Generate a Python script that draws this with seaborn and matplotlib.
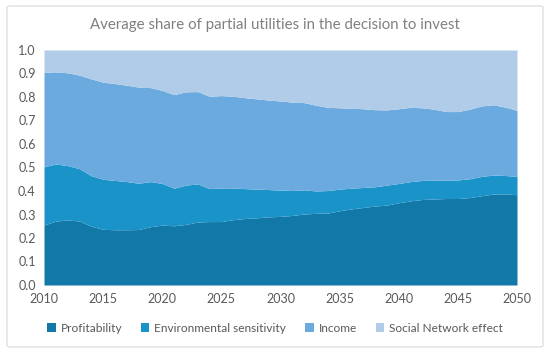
import numpy as np
import matplotlib
matplotlib.use("Agg")
import matplotlib.pyplot as plt
import seaborn as sns
from matplotlib.patches import FancyBboxPatch, Patch

years = list(range(2010, 2051))

profitability = [0.255, 0.272, 0.277, 0.272, 0.250, 0.237, 0.235, 0.235, 0.236, 0.248,
                 0.255, 0.252, 0.258, 0.268, 0.270, 0.270, 0.278, 0.283, 0.286, 0.290,
                 0.292, 0.296, 0.302, 0.305, 0.306, 0.316, 0.324, 0.330, 0.336, 0.340,
                 0.350, 0.358, 0.364, 0.366, 0.368, 0.368, 0.372, 0.380, 0.387, 0.388,
                 0.384]
env_sensitivity = [0.248, 0.243, 0.231, 0.223, 0.215, 0.213, 0.210, 0.205, 0.197, 0.192,
                   0.177, 0.160, 0.167, 0.162, 0.140, 0.143, 0.135, 0.127, 0.122, 0.116,
                   0.112, 0.106, 0.103, 0.095, 0.096, 0.092, 0.088, 0.085, 0.082, 0.085,
                   0.082, 0.082, 0.081, 0.080, 0.078, 0.079, 0.080, 0.082, 0.081, 0.078,
                   0.078]
income = [0.402, 0.392, 0.395, 0.398, 0.412, 0.413, 0.412, 0.410, 0.409, 0.400,
          0.396, 0.398, 0.397, 0.393, 0.393, 0.393, 0.390, 0.387, 0.384, 0.381,
          0.379, 0.376, 0.371, 0.365, 0.354, 0.346, 0.340, 0.335, 0.328, 0.320,
          0.318, 0.316, 0.309, 0.302, 0.292, 0.291, 0.296, 0.300, 0.299, 0.291,
          0.281]
social_network = [0.095, 0.093, 0.097, 0.107, 0.123, 0.137, 0.143, 0.150, 0.158, 0.160,
                  0.172, 0.190, 0.178, 0.177, 0.197, 0.194, 0.197, 0.203, 0.208, 0.213,
                  0.217, 0.222, 0.224, 0.235, 0.244, 0.246, 0.248, 0.250, 0.254, 0.255,
                  0.250, 0.244, 0.246, 0.252, 0.262, 0.262, 0.252, 0.238, 0.233, 0.243,
                  0.257]

labels = ["Profitability", "Environmental sensitivity", "Income", "Social Network effect"]
colors = ["#1278a8", "#1a93c9", "#6aaade", "#b0cce9"]

sns.set_theme(style="white")
plt.rcParams["font.family"] = ["Lato", "DejaVu Sans"]

fig = plt.figure(figsize=(5.5, 3.56), dpi=100)
ax = fig.add_axes([44 / 550, 1 - 285 / 356, (517 - 44) / 550, (285 - 50) / 356])

ax.stackplot(years, profitability, env_sensitivity, income, social_network,
             colors=colors, linewidth=0)

ax.set_xlim(2010, 2050)
ax.set_ylim(0, 1.0)
ax.set_xticks(range(2010, 2051, 5))
ax.set_yticks(np.arange(0, 1.01, 0.1))
ax.set_yticklabels([f"{v:.1f}" for v in np.arange(0, 1.01, 0.1)])
ax.tick_params(axis="both", labelsize=9, colors="#595959", length=0, pad=6)
for s in ax.spines.values():
    s.set_visible(False)

fig.text(0.5, 1 - 25 / 356, "Average share of partial utilities in the decision to invest",
         ha="center", va="center", fontsize=10.8, color="#808080")

handles = [Patch(facecolor=c, edgecolor="none") for c in colors]
fig.legend(handles, labels, loc="center", bbox_to_anchor=(0.5, 1 - 328 / 356), ncol=4,
           frameon=False, fontsize=8.6, labelcolor="#595959", handlelength=0.7,
           handleheight=0.7, handletextpad=0.4, columnspacing=1.6)

border = FancyBboxPatch((7 / 550, 1 - 347 / 356), (543 - 7) / 550, (347 - 6) / 356,
                        boxstyle="round,pad=0,rounding_size=0.005", transform=fig.transFigure,
                        facecolor="none", edgecolor="#d9d9d9", linewidth=0.8)
fig.patches.append(border)

fig.savefig("out.png", dpi=100)
